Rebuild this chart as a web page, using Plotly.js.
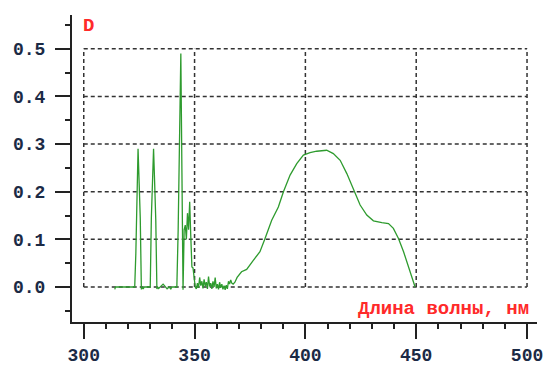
<!DOCTYPE html>
<html>
<head>
<meta charset="utf-8">
<script src="https://cdn.plot.ly/plotly-3.0.1.min.js"></script>
<style>
  html, body { margin: 0; padding: 0; background: #fff; }
  #chart { width: 543px; height: 365px; }
</style>
</head>
<body>
<div id="chart"></div>
<script>
// Absorption spectrum: wavelength (nm) and optical density D
const wavelength = [
  314, 314.3, 316, 318, 320, 322, 323, 323.5, 324, 324.5, 325, 325.5, 326, 326.4, 326.8, 327.3, 328, 329, 330,
  330.5, 331, 331.5, 332, 332.5, 333, 333.4, 333.8, 334.5, 335.2, 335.8, 336.4, 337, 337.6, 338.5, 339.3, 339.8, 341, 342,
  342.6, 343.2, 343.8, 344.3, 344.8, 345.3, 345.8, 346.3, 346.8, 347.3, 347.8, 348.3, 348.8, 349.3, 349.8, 350.3,
  350.8, 351.3, 351.8, 352.3, 352.8, 353.3, 353.8, 354.3, 354.8, 355.3, 355.8, 356.3, 356.8, 357.3, 357.8, 358.3,
  358.8, 359.3, 359.8, 360.3, 360.8, 361.3, 361.8, 362.3, 362.8, 363.3, 363.8, 364.3, 364.8, 365.3, 365.8, 366.3,
  366.8, 367.4, 368.2, 369.2, 371.2, 373.5, 376.5, 379.5, 381.8, 384.8, 387.8, 390.1, 393.1, 396.1, 399.1, 402.1,
  405.1, 409.6, 412.6, 415.7, 418.7, 421.7, 424.7, 427.7, 430.7, 434.5, 437.5, 439.7, 442, 444.3, 446.5, 449.5
];
const density = [
  -0.005, 0, 0, 0, 0, 0, 0, 0.07, 0.217, 0.29, 0.217, 0.144, -0.005, 0, -0.004, 0, 0, 0, 0,
  0.145, 0.22, 0.29, 0.217, 0.14, -0.004, 0, -0.003, 0, 0.004, 0.006, 0.003, 0, -0.004, 0, -0.004, 0, 0, 0,
  0.12, 0.365, 0.49, 0.24, -0.006, 0.12, 0.13, 0.1, 0.155, 0.12, 0.179, 0.105, 0.042, 0.04, 0.014, 0.0,
  -0.004, 0.008, -0.002, 0.02, 0.003, 0.012, -0.003, 0.016, 0.002, 0.01, -0.004, 0.022, 0.001, 0.008, -0.004, 0.012,
  0.0, 0.02, -0.003, 0.006, -0.005, 0.01, -0.002, 0.006, -0.005, 0.003, -0.006, 0.004, -0.004, 0.012, 0.006, 0.015,
  0.008, 0.006, 0.01, 0.02, 0.032, 0.037, 0.056, 0.074, 0.102, 0.14, 0.168, 0.2, 0.235, 0.259, 0.277, 0.282,
  0.285, 0.287, 0.28, 0.266, 0.238, 0.203, 0.172, 0.151, 0.139, 0.135, 0.133, 0.123, 0.102, 0.074, 0.042, 0.0
];

// Axis ticks and dashed grid positions
const xMajorTicks = [300, 350, 400, 450, 500];
const yMajorTicks = [0.0, 0.1, 0.2, 0.3, 0.4, 0.5];
const yTickLabels = ['0.0', '0.1', '0.2', '0.3', '0.4', '0.5'];

const gridStyle = { color: '#333', width: 1.5, dash: '4px,3px' };
const xLo = xMajorTicks[0], xHi = xMajorTicks[xMajorTicks.length - 1];
const yLo = yMajorTicks[0], yHi = yMajorTicks[yMajorTicks.length - 1];

const gridShapes = [];
xMajorTicks.forEach(v => gridShapes.push({
  type: 'line', xref: 'x', yref: 'y', x0: v, x1: v, y0: yLo, y1: yHi,
  line: gridStyle, layer: 'below'
}));
yMajorTicks.forEach(v => gridShapes.push({
  type: 'line', xref: 'x', yref: 'y', x0: xLo, x1: xHi, y0: v, y1: v,
  line: gridStyle, layer: 'below'
}));

const tickFont = { family: 'Liberation Mono, monospace', size: 18, color: '#1b2a45', weight: 'bold' };
const redFont = { family: 'Liberation Mono, monospace', size: 19, color: '#ff2a2a', weight: 'bold' };

const trace = {
  x: wavelength,
  y: density,
  type: 'scatter',
  mode: 'lines',
  line: { color: '#2e9b2e', width: 1.3 },
  hoverinfo: 'skip'
};

const layout = {
  width: 543,
  height: 365,
  margin: { l: 72, r: 6, t: 15, b: 43 },
  paper_bgcolor: '#fff',
  plot_bgcolor: '#fff',
  showlegend: false,
  xaxis: {
    range: [294.7, 504.5],
    showgrid: false,
    zeroline: false,
    showline: true,
    linecolor: '#222',
    linewidth: 2,
    tickmode: 'array',
    tickvals: xMajorTicks,
    ticktext: xMajorTicks.map(String),
    ticks: 'outside',
    ticklen: 15,
    tickwidth: 2,
    tickcolor: '#222',
    tickfont: tickFont,
    ticklabeloverflow: 'allow',
    minor: { dtick: 10, tick0: 300, ticks: 'outside', ticklen: 5, tickwidth: 2, tickcolor: '#222', showgrid: false }
  },
  yaxis: {
    range: [-0.0735, 0.571],
    showgrid: false,
    zeroline: false,
    showline: true,
    linecolor: '#222',
    linewidth: 2,
    tickmode: 'array',
    tickvals: yMajorTicks,
    ticktext: yTickLabels,
    ticks: 'outside',
    ticklen: 15,
    tickwidth: 2,
    tickcolor: '#222',
    tickfont: tickFont,
    ticklabelstandoff: 6,
    ticklabeloverflow: 'allow',
    minor: { dtick: 0.05, tick0: 0, ticks: 'outside', ticklen: 5, tickwidth: 2, tickcolor: '#222', showgrid: false }
  },
  shapes: gridShapes,
  annotations: [
    {
      text: 'D', xref: 'paper', yref: 'paper', x: 0.019, y: 0.964,
      xanchor: 'left', yanchor: 'middle', showarrow: false,
      font: redFont
    },
    {
      text: 'Длина волны, нм', xref: 'paper', yref: 'paper', x: 0.988, y: 0.043,
      xanchor: 'right', yanchor: 'middle', showarrow: false,
      font: redFont
    }
  ]
};

Plotly.newPlot('chart', [trace], layout, { displayModeBar: false, staticPlot: true });
</script>
</body>
</html>
